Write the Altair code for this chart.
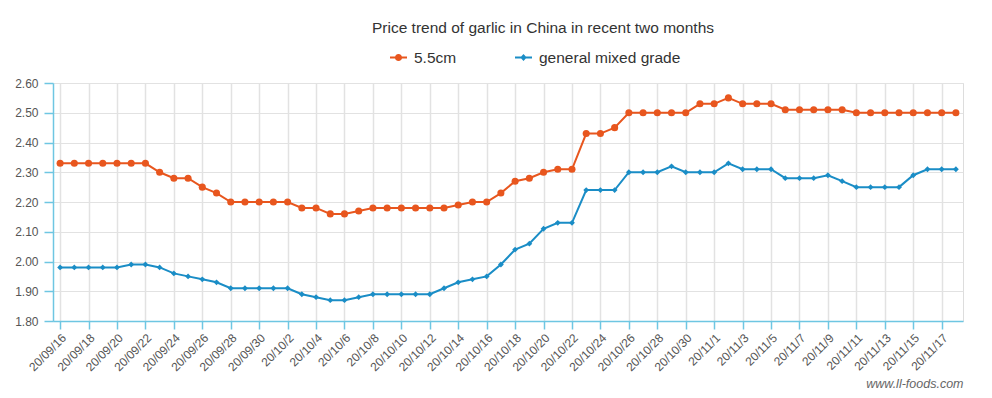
import altair as alt
import pandas as pd

# ---- data ----
dates = (
    [f"20/09/{d}" for d in range(16, 31)]
    + [f"20/10/{d}" for d in range(1, 32)]
    + [f"20/11/{d}" for d in range(1, 19)]
)

series_names = ["5.5cm", "general mixed grade"]

price_55cm = [
    2.33, 2.33, 2.33, 2.33, 2.33, 2.33, 2.33, 2.30, 2.28, 2.28,
    2.25, 2.23, 2.20, 2.20, 2.20, 2.20, 2.20, 2.18, 2.18, 2.16,
    2.16, 2.17, 2.18, 2.18, 2.18, 2.18, 2.18, 2.18, 2.19, 2.20,
    2.20, 2.23, 2.27, 2.28, 2.30, 2.31, 2.31, 2.43, 2.43, 2.45,
    2.50, 2.50, 2.50, 2.50, 2.50, 2.53, 2.53, 2.55, 2.53, 2.53,
    2.53, 2.51, 2.51, 2.51, 2.51, 2.51, 2.50, 2.50, 2.50, 2.50,
    2.50, 2.50, 2.50, 2.50,
]

price_mixed = [
    1.98, 1.98, 1.98, 1.98, 1.98, 1.99, 1.99, 1.98, 1.96, 1.95,
    1.94, 1.93, 1.91, 1.91, 1.91, 1.91, 1.91, 1.89, 1.88, 1.87,
    1.87, 1.88, 1.89, 1.89, 1.89, 1.89, 1.89, 1.91, 1.93, 1.94,
    1.95, 1.99, 2.04, 2.06, 2.11, 2.13, 2.13, 2.24, 2.24, 2.24,
    2.30, 2.30, 2.30, 2.32, 2.30, 2.30, 2.30, 2.33, 2.31, 2.31,
    2.31, 2.28, 2.28, 2.28, 2.29, 2.27, 2.25, 2.25, 2.25, 2.25,
    2.29, 2.31, 2.31, 2.31,
]

y_ticks = [1.8, 1.9, 2.0, 2.1, 2.2, 2.3, 2.4, 2.5, 2.6]
x_tick_labels = dates[::2]

colors = ["#E8561E", "#1A8DC6"]
axis_blue = "#6EC6E2"
grid_grey = "#E2E2E2"
font = "Liberation Sans"

rows = []
for d, a, b in zip(dates, price_55cm, price_mixed):
    rows.append({"date": d, "series": series_names[0], "price": a})
    rows.append({"date": d, "series": series_names[1], "price": b})
df = pd.DataFrame(rows)

# ---- encodings ----
x_enc = alt.X(
    "date:O",
    sort=dates,
    scale=alt.Scale(type="point", padding=0.5),
    axis=alt.Axis(
        values=x_tick_labels,
        labelAngle=315,
        labelFontSize=12,
        labelFont=font,
        labelColor="#555555",
        labelPadding=3,
        tickSize=8,
        tickWidth=1.5,
        tickColor=axis_blue,
        domainColor=axis_blue,
        domainWidth=1.5,
        grid=True,
        gridColor=grid_grey,
        gridWidth=1.5,
        title="www.ll-foods.com",
        titleAnchor="end",
        titleAlign="right",
        titleBaseline="alphabetic",
        titleY=66,
        titleFont=font,
        titleFontSize=12.5,
        titleFontStyle="italic",
        titleFontWeight="normal",
        titleColor="#666666",
    ),
)

y_enc = alt.Y(
    "price:Q",
    scale=alt.Scale(domain=[1.8, 2.6], nice=False, zero=False),
    axis=alt.Axis(
        values=y_ticks,
        format=".2f",
        labelFontSize=12,
        labelFont=font,
        labelColor="#555555",
        labelPadding=6,
        tickSize=9,
        tickWidth=1.5,
        tickColor=axis_blue,
        domainColor=axis_blue,
        domainWidth=1.5,
        grid=True,
        gridColor=grid_grey,
        gridWidth=1.2,
        title=None,
    ),
)

color_scale = alt.Scale(domain=series_names, range=colors)

base = alt.Chart(df)

# legend symbols: a short line with the series marker on it
circle_line = (
    "M-1,-0.12H1V0.12H-1Z "
    "M0.42,0A0.42,0.42,0,1,1,-0.42,0A0.42,0.42,0,1,1,0.42,0Z"
)
diamond_line = "M-1,-0.12H1V0.12H-1Z M0,-0.42L0.38,0L0,0.42L-0.38,0Z"

legend_def = alt.Legend(
    title=None,
    orient="none",
    legendX=337,
    legendY=-34,
    direction="horizontal",
    padding=0,
    labelFont=font,
    labelFontSize=15.5,
    labelColor="#333333",
    labelOffset=7,
    columnPadding=58,
    symbolSize=289,
    symbolStrokeWidth=0,
    symbolOpacity=1,
)

# layer that only carries the legend (draws no marks); it comes first so
# its legend settings win when the layers' legends are merged
legend_layer = (
    base.transform_filter("false")
    .mark_point(filled=True, opacity=1)
    .encode(
        color=alt.Color("series:N", scale=color_scale, legend=legend_def),
        shape=alt.Shape(
            "series:N",
            scale=alt.Scale(domain=series_names, range=[circle_line, diamond_line]),
            legend=legend_def,
        ),
    )
)

lines = base.mark_line(strokeWidth=2).encode(
    x=x_enc,
    y=y_enc,
    color=alt.Color("series:N", scale=color_scale),
    detail="series:N",
)

pts_orange = (
    base.transform_filter(alt.datum.series == series_names[0])
    .mark_point(shape="circle", filled=True, size=50, opacity=1)
    .encode(x=x_enc, y=y_enc, color=alt.Color("series:N", scale=color_scale))
)

pts_blue = (
    base.transform_filter(alt.datum.series == series_names[1])
    .mark_point(shape="diamond", filled=True, size=34, opacity=1)
    .encode(x=x_enc, y=y_enc, color=alt.Color("series:N", scale=color_scale))
)

chart = (
    alt.layer(legend_layer, lines, pts_orange, pts_blue)
    .properties(
        width=910,
        height=238,
        autosize=alt.AutoSizeParams(type="none"),
        padding={"left": 45, "top": 75, "right": 16, "bottom": 68},
        title=alt.Title(
            "Price trend of garlic in China in recent two months",
            font=font,
            fontSize=15.5,
            fontWeight="normal",
            color="#333333",
            anchor="middle",
            frame="group",
            baseline="alphabetic",
            offset=1,
            dx=35,
        ),
    )
    .configure_view(strokeWidth=0)
    .configure(background="white")
)

chart.save("out.html", embed_options={"renderer": "svg", "actions": False})
